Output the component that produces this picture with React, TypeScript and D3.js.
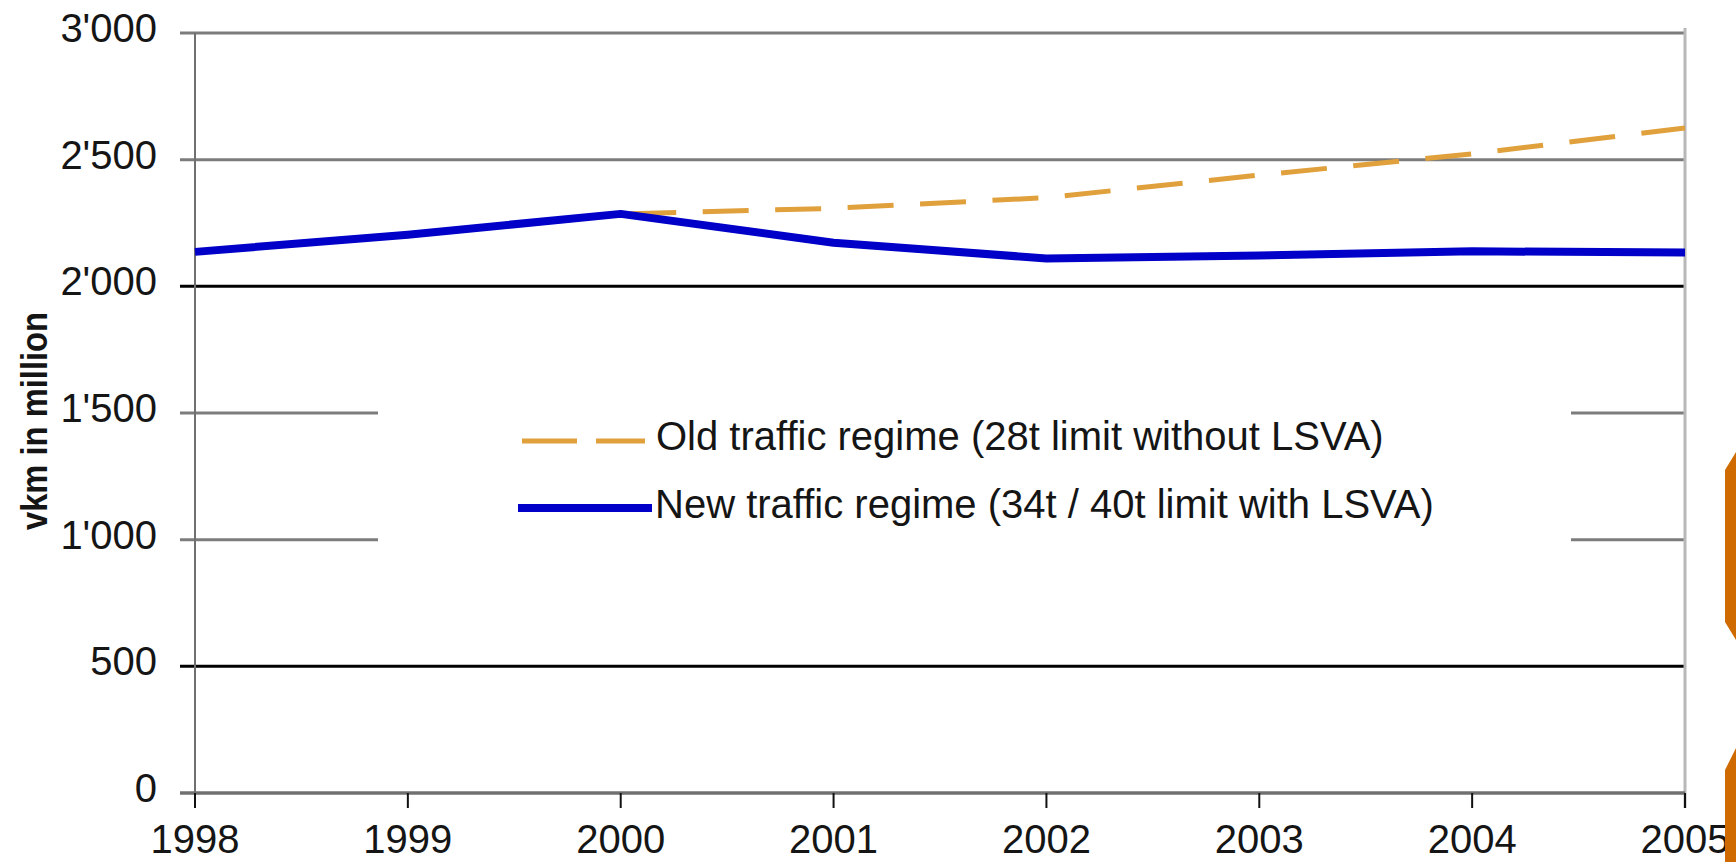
import React from "react";
import * as d3 from "d3";

// Heavy goods vehicle kilometres, million vkm per year
const years = [1998, 1999, 2000, 2001, 2002, 2003, 2004, 2005];
const newRegime = [2136, 2204, 2286, 2172, 2110, 2122, 2138, 2134];
const oldRegimeYears = [2000, 2001, 2002, 2003, 2004, 2005];
const oldRegime = [2286, 2308, 2350, 2439, 2523, 2625];
const yTicks = [0, 500, 1000, 1500, 2000, 2500, 3000];
const yTickLabels = ["0", "500", "1'000", "1'500", "2'000", "2'500", "3'000"];
const seriesNames = [
  "Old traffic regime (28t limit without LSVA)",
  "New traffic regime (34t / 40t limit with LSVA)",
];
const yAxisTitle = "vkm in million";

const W = 1736;
const H = 862;
const FONT = "'Liberation Sans', Arial, Helvetica, sans-serif";
const BLUE = "#0000c8";
const GOLD = "#e0a03c";
const DECOR = "#cf6a00";
// gridlines drawn in black rather than grey
const darkGrid = new Set([500, 2000]);

export default function App() {
  const x = d3.scaleLinear().domain([1998, 2005]).range([195, 1685]);
  const y = d3.scaleLinear().domain([0, 3000]).range([793, 33]);

  const line = d3
    .line<[number, number]>()
    .x((d) => x(d[0]))
    .y((d) => y(d[1]));

  const newPts: [number, number][] = years.map((yr, i) => [yr, newRegime[i]]);
  const oldPts: [number, number][] = oldRegimeYears.map((yr, i) => [yr, oldRegime[i]]);

  const [x0, x1] = x.range();

  return (
    <div style={{ position: "fixed", left: 0, top: 0, width: W, height: H, background: "#fff" }}>
      <svg width={W} height={H} style={{ display: "block" }} fontFamily={FONT}>
        <rect x={0} y={0} width={W} height={H} fill="#fff" />

        {/* horizontal gridlines with left tick stubs */}
        {yTicks.map((t) =>
          t === 0 ? null : (
            <line
              key={"g" + t}
              x1={x0 - 15}
              x2={x1}
              y1={y(t)}
              y2={y(t)}
              stroke={darkGrid.has(t) ? "#000" : "#7c7c7c"}
              strokeWidth={3}
            />
          )
        )}

        {/* legend panel masks the gridlines behind it */}
        <rect x={378} y={350} width={1571 - 378} height={250} fill="#fff" />

        {/* right frame */}
        <line x1={x1} x2={x1} y1={28} y2={808} stroke="#b8b8b8" strokeWidth={3} />
        {/* left axis */}
        <line x1={x0} x2={x0} y1={y(3000)} y2={y(0) + 15} stroke="#707070" strokeWidth={2} />
        {/* bottom axis */}
        <line x1={x0 - 15} x2={x1} y1={y(0)} y2={y(0)} stroke="#707070" strokeWidth={3.5} />
        {years.map((yr) => (
          <line
            key={"t" + yr}
            x1={x(yr)}
            x2={x(yr)}
            y1={y(0)}
            y2={y(0) + 15}
            stroke="#111"
            strokeWidth={2}
          />
        ))}

        {/* y tick labels */}
        {yTicks.map((t, i) => (
          <text
            key={"yl" + t}
            x={157}
            y={y(t) + 9}
            textAnchor="end"
            fontSize={40}
            fill="#151515"
          >
            {yTickLabels[i]}
          </text>
        ))}

        {/* x tick labels */}
        {years.map((yr) => (
          <text
            key={"xl" + yr}
            x={x(yr)}
            y={853}
            textAnchor="middle"
            fontSize={40}
            fill="#151515"
          >
            {yr}
          </text>
        ))}

        {/* y axis title */}
        <text
          transform="translate(47,421) rotate(-90)"
          textAnchor="middle"
          fontSize={37}
          fontWeight="bold"
          fill="#151515"
          textLength={218}
          lengthAdjust="spacingAndGlyphs"
        >
          {yAxisTitle}
        </text>

        {/* series */}
        <path
          d={line(oldPts) ?? ""}
          fill="none"
          stroke={GOLD}
          strokeWidth={5}
          strokeDasharray="46 26.5"
          strokeDashoffset={63}
        />
        <path
          d={line(newPts) ?? ""}
          fill="none"
          stroke={BLUE}
          strokeWidth={8}
          strokeLinejoin="round"
        />

        {/* legend */}
        <line x1={522} x2={645} y1={441} y2={441} stroke={GOLD} strokeWidth={5} strokeDasharray="55 19" />
        <line x1={518} x2={652} y1={508} y2={508} stroke={BLUE} strokeWidth={8} />
        <text x={656} y={450} fontSize={40} fill="#151515">
          {seriesNames[0]}
        </text>
        <text x={655} y={518} fontSize={40} fill="#151515">
          {seriesNames[1]}
        </text>

        {/* slide decoration on the right edge */}
        <polygon points="1736,452 1725,470 1725,622 1736,640" fill={DECOR} />
        <polygon points="1736,748 1725,770 1725,862 1736,862" fill={DECOR} />
      </svg>
    </div>
  );
}
